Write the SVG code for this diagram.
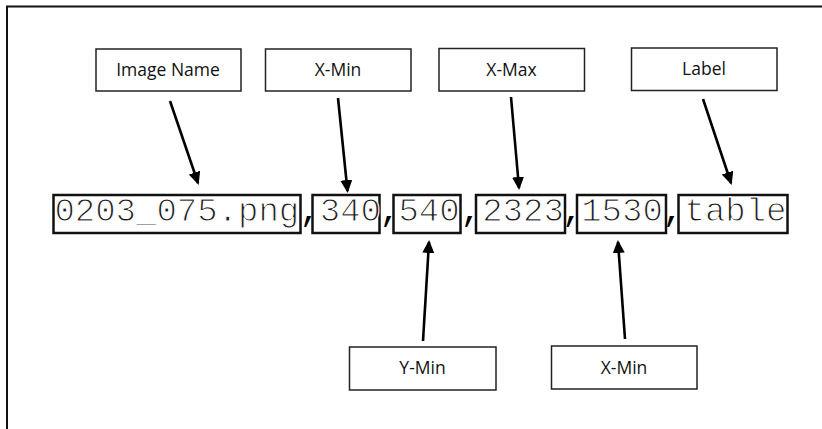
<svg xmlns="http://www.w3.org/2000/svg" width="822" height="429" viewBox="0 0 822 429">
  <style>
    .tag rect { fill: #fff; stroke: #222; stroke-width: 1.5; }
    .tag text { font-family: "Open Sans", "Liberation Sans", sans-serif; font-size: 17.5px; fill: #111; text-anchor: middle; }
    .field rect { fill: none; stroke: #111; stroke-width: 2.5; }
    /* thin monospace glyphs: a white stroke painted over the fill trims the stems */
    .mono { font-family: "Liberation Mono", "DejaVu Sans Mono", monospace; font-size: 34px; fill: #1a1a1a; stroke: #fff; stroke-width: 1.1; text-anchor: middle; }
    .mono.sep { stroke: none; fill: #000; }
    .conn line { stroke: #000; stroke-width: 2.6; }
  </style>
  <defs>
    <marker id="head" markerUnits="userSpaceOnUse" markerWidth="14" markerHeight="12" refX="11" refY="6" orient="auto">
      <path d="M0,0 L13,6 L0,12 z" fill="#000"/>
    </marker>
  </defs>

  <rect width="822" height="429" fill="#fff"/>
  <!-- outer frame (open to the right and bottom) -->
  <path d="M7,430 V6.5 H823" fill="none" stroke="#111" stroke-width="2"/>

  <!-- label boxes above the record -->
  <g id="tag-image-name" class="tag">
    <rect x="96" y="49" width="145" height="42"/>
    <text x="168" y="76">Image Name</text>
  </g>
  <g id="tag-xmin-top" class="tag">
    <rect x="265.5" y="49" width="145.5" height="42"/>
    <text x="338" y="76">X-Min</text>
  </g>
  <g id="tag-xmax" class="tag">
    <rect x="439" y="48.5" width="145.5" height="42.5"/>
    <text x="511.5" y="75.5">X-Max</text>
  </g>
  <g id="tag-label" class="tag">
    <rect x="631.5" y="48" width="145.5" height="42.5"/>
    <text x="704" y="75">Label</text>
  </g>

  <!-- label boxes below the record -->
  <g id="tag-ymin" class="tag">
    <rect x="349.5" y="347" width="146.5" height="43"/>
    <text x="422.5" y="374">Y-Min</text>
  </g>
  <g id="tag-xmin-bottom" class="tag">
    <rect x="551.5" y="346" width="145.5" height="43"/>
    <text x="624" y="373.5">X-Min</text>
  </g>

  <!-- the CSV record with each field boxed -->
  <g id="record">
    <g id="field-name" class="field">
      <rect x="53.5" y="195" width="247" height="38"/>
      <text class="mono" x="176.8" y="221">0203_075.png</text>
    </g>
    <text class="mono sep" x="310" y="221">,</text>
    <g id="field-xmin" class="field">
      <rect x="312.5" y="195" width="67" height="38"/>
      <text class="mono" x="350.4" y="221">340</text>
    </g>
    <text class="mono sep" x="390" y="221">,</text>
    <g id="field-ymin" class="field">
      <rect x="393.5" y="195" width="67" height="38"/>
      <text class="mono" x="429" y="221">540</text>
    </g>
    <text class="mono sep" x="471" y="221">,</text>
    <g id="field-xmax" class="field">
      <rect x="476" y="195" width="89" height="38"/>
      <text class="mono" x="523" y="221">2323</text>
    </g>
    <text class="mono sep" x="572.5" y="221">,</text>
    <g id="field-xmin2" class="field">
      <rect x="577" y="195" width="89" height="38"/>
      <text class="mono" x="622" y="221">1530</text>
    </g>
    <text class="mono sep" x="673" y="221">,</text>
    <g id="field-label" class="field">
      <rect x="678.5" y="195" width="109" height="38"/>
      <text class="mono" x="735.5" y="221">table</text>
    </g>
  </g>

  <!-- connectors -->
  <g id="connectors" class="conn">
    <line x1="170" y1="101" x2="198" y2="183" marker-end="url(#head)"/>
    <line x1="338" y1="98" x2="347.5" y2="191" marker-end="url(#head)"/>
    <line x1="511" y1="97" x2="519" y2="188" marker-end="url(#head)"/>
    <line x1="703" y1="99" x2="731" y2="183" marker-end="url(#head)"/>
    <line x1="423" y1="341" x2="429" y2="242" marker-end="url(#head)"/>
    <line x1="625" y1="339" x2="618" y2="242" marker-end="url(#head)"/>
  </g>
</svg>
